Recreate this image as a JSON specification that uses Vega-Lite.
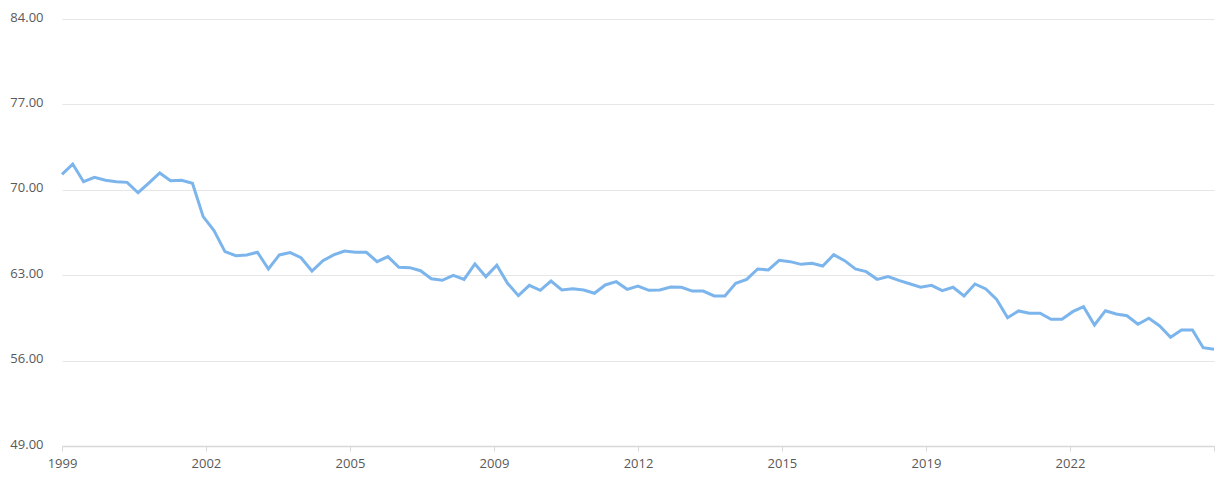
{
  "$schema": "https://vega.github.io/schema/vega-lite/v6.json",
  "width": 1152,
  "height": 427,
  "autosize": {"type": "none"},
  "padding": {"left": 62, "top": 19, "right": 9, "bottom": 36},
  "background": "#ffffff",
  "config": {
    "view": {"stroke": null},
    "font": "Open Sans",
    "axis": {"labelFont": "Open Sans", "labelFontSize": 13, "labelColor": "#595959"}
  },
  "data": {
    "values": [
      {"date": "1999-01-01", "value": 71.27}, {"date": "1999-04-01", "value": 72.11}, {"date": "1999-07-01", "value": 70.66}, {"date": "1999-10-01", "value": 71.02},
      {"date": "2000-01-01", "value": 70.78}, {"date": "2000-04-01", "value": 70.66}, {"date": "2000-07-01", "value": 70.61}, {"date": "2000-10-01", "value": 69.76},
      {"date": "2001-01-01", "value": 70.57}, {"date": "2001-04-01", "value": 71.38}, {"date": "2001-07-01", "value": 70.75}, {"date": "2001-10-01", "value": 70.78},
      {"date": "2002-01-01", "value": 70.53}, {"date": "2002-04-01", "value": 67.8}, {"date": "2002-07-01", "value": 66.65}, {"date": "2002-10-01", "value": 64.93},
      {"date": "2003-01-01", "value": 64.6}, {"date": "2003-04-01", "value": 64.66}, {"date": "2003-07-01", "value": 64.88}, {"date": "2003-10-01", "value": 63.51},
      {"date": "2004-01-01", "value": 64.66}, {"date": "2004-04-01", "value": 64.85}, {"date": "2004-07-01", "value": 64.43}, {"date": "2004-10-01", "value": 63.34},
      {"date": "2005-01-01", "value": 64.19}, {"date": "2005-04-01", "value": 64.66}, {"date": "2005-07-01", "value": 64.98}, {"date": "2005-10-01", "value": 64.88},
      {"date": "2006-01-01", "value": 64.88}, {"date": "2006-04-01", "value": 64.11}, {"date": "2006-07-01", "value": 64.52}, {"date": "2006-10-01", "value": 63.65},
      {"date": "2007-01-01", "value": 63.62}, {"date": "2007-04-01", "value": 63.37}, {"date": "2007-07-01", "value": 62.71}, {"date": "2007-10-01", "value": 62.58},
      {"date": "2008-01-01", "value": 62.99}, {"date": "2008-04-01", "value": 62.66}, {"date": "2008-07-01", "value": 63.92}, {"date": "2008-10-01", "value": 62.88},
      {"date": "2009-01-01", "value": 63.81}, {"date": "2009-04-01", "value": 62.34}, {"date": "2009-07-01", "value": 61.32}, {"date": "2009-10-01", "value": 62.17},
      {"date": "2010-01-01", "value": 61.76}, {"date": "2010-04-01", "value": 62.52}, {"date": "2010-07-01", "value": 61.79}, {"date": "2010-10-01", "value": 61.89},
      {"date": "2011-01-01", "value": 61.79}, {"date": "2011-04-01", "value": 61.52}, {"date": "2011-07-01", "value": 62.2}, {"date": "2011-10-01", "value": 62.47},
      {"date": "2012-01-01", "value": 61.84}, {"date": "2012-04-01", "value": 62.11}, {"date": "2012-07-01", "value": 61.76}, {"date": "2012-10-01", "value": 61.79},
      {"date": "2013-01-01", "value": 62.03}, {"date": "2013-04-01", "value": 62.01}, {"date": "2013-07-01", "value": 61.7}, {"date": "2013-10-01", "value": 61.7},
      {"date": "2014-01-01", "value": 61.3}, {"date": "2014-04-01", "value": 61.3}, {"date": "2014-07-01", "value": 62.34}, {"date": "2014-10-01", "value": 62.66},
      {"date": "2015-01-01", "value": 63.51}, {"date": "2015-04-01", "value": 63.43}, {"date": "2015-07-01", "value": 64.22}, {"date": "2015-10-01", "value": 64.11},
      {"date": "2016-01-01", "value": 63.89}, {"date": "2016-04-01", "value": 63.97}, {"date": "2016-07-01", "value": 63.75}, {"date": "2016-10-01", "value": 64.68},
      {"date": "2017-01-01", "value": 64.19}, {"date": "2017-04-01", "value": 63.51}, {"date": "2017-07-01", "value": 63.29}, {"date": "2017-10-01", "value": 62.66},
      {"date": "2018-01-01", "value": 62.88}, {"date": "2018-04-01", "value": 62.58}, {"date": "2018-07-01", "value": 62.3}, {"date": "2018-10-01", "value": 62.01},
      {"date": "2019-01-01", "value": 62.17}, {"date": "2019-04-01", "value": 61.73}, {"date": "2019-07-01", "value": 62.01}, {"date": "2019-10-01", "value": 61.3},
      {"date": "2020-01-01", "value": 62.28}, {"date": "2020-04-01", "value": 61.87}, {"date": "2020-07-01", "value": 61.02}, {"date": "2020-10-01", "value": 59.52},
      {"date": "2021-01-01", "value": 60.07}, {"date": "2021-04-01", "value": 59.88}, {"date": "2021-07-01", "value": 59.88}, {"date": "2021-10-01", "value": 59.39},
      {"date": "2022-01-01", "value": 59.39}, {"date": "2022-04-01", "value": 60.01}, {"date": "2022-07-01", "value": 60.42}, {"date": "2022-10-01", "value": 58.92},
      {"date": "2023-01-01", "value": 60.09}, {"date": "2023-04-01", "value": 59.82}, {"date": "2023-07-01", "value": 59.68}, {"date": "2023-10-01", "value": 58.98},
      {"date": "2024-01-01", "value": 59.47}, {"date": "2024-04-01", "value": 58.84}, {"date": "2024-07-01", "value": 57.91}, {"date": "2024-10-01", "value": 58.51},
      {"date": "2025-01-01", "value": 58.51}, {"date": "2025-04-01", "value": 57.06}, {"date": "2025-07-01", "value": 56.93}
    ]
  },
  "mark": {"type": "line", "color": "#7cb5ec", "strokeWidth": 3, "interpolate": "linear"},
  "encoding": {
    "x": {
      "field": "date",
      "type": "temporal",
      "title": null,
      "scale": {"nice": false},
      "axis": {
        "values": [
          {"year": 1999, "month": 1, "date": 1},
          {"year": 2002, "month": 4, "date": 24},
          {"year": 2005, "month": 8, "date": 16},
          {"year": 2008, "month": 12, "date": 8},
          {"year": 2012, "month": 4, "date": 1},
          {"year": 2015, "month": 7, "date": 24},
          {"year": 2018, "month": 11, "date": 15},
          {"year": 2022, "month": 3, "date": 9},
          {"year": 2025, "month": 7, "date": 1}
        ],
        "labelExpr": "year(datum.value) >= 2025 ? '' : (month(datum.value) >= 9 ? toString(year(datum.value) + 1) : toString(year(datum.value)))",
        "grid": false,
        "domainColor": "#d8d8d8",
        "domainWidth": 1.5,
        "tickColor": "#d8d8d8",
        "tickSize": 5,
        "labelPadding": 6,
        "labelFlush": false,
        "labelOverlap": false
      }
    },
    "y": {
      "field": "value",
      "type": "quantitative",
      "title": null,
      "scale": {"domain": [49, 84], "nice": false, "zero": false},
      "axis": {
        "values": [49, 56, 63, 70, 77, 84],
        "format": ".2f",
        "domain": false,
        "ticks": false,
        "tickSize": 0,
        "labelPadding": 19,
        "labelOffset": -2,
        "gridColor": "#e6e6e6",
        "gridWidth": 1
      }
    }
  }
}
